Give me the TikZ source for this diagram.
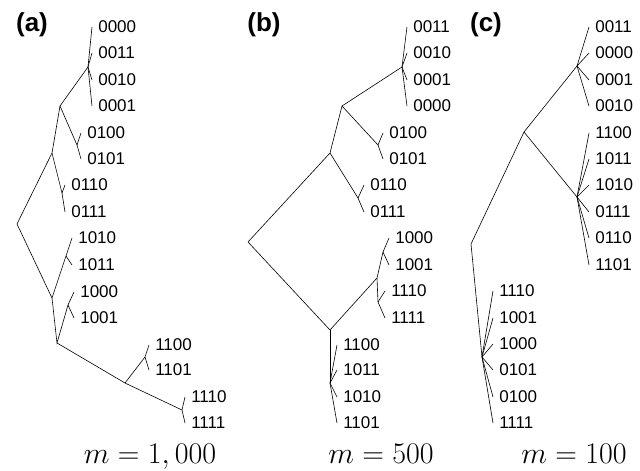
\RequirePackage{fix-cm}
\documentclass[tikz,border=0pt]{standalone}
\usepackage{fontspec}
\newfontfamily\leaffont{Liberation Sans}

\begin{document}
\begin{tikzpicture}[x=1pt,y=-1pt,line width=0.6pt,
    leaf/.style={anchor=west,inner xsep=6pt,inner ysep=0pt,
      font=\leaffont\fontsize{17}{17}\selectfont},
    panel/.style={font=\leaffont\bfseries\fontsize{26}{26}\selectfont},
    mlabel/.style={anchor=base,font=\fontsize{30}{30}\selectfont}]
  \useasboundingbox (0,0) rectangle (640,471);

  % (a)
  \node[panel] (pa) at (32,25) {(a)};
  \coordinate (aroot) at (17,224);
  \coordinate (a1) at (88,67);
  \coordinate (a2) at (60,106);
  \coordinate (a3) at (77,145);
  \coordinate (a4) at (52,153);
  \coordinate (a5) at (62,193);
  \coordinate (a6) at (52,298);
  \coordinate (a7) at (66,256);
  \coordinate (a8) at (57,343);
  \coordinate (a9) at (68,305);
  \coordinate (a10) at (125,383);
  \coordinate (a11) at (145,357);
  \coordinate (a12) at (182,410);
  \draw (aroot) -- (a4) -- (a2) -- (a1);
  \draw (a2) -- (a3);
  \draw (a4) -- (a5);
  \draw (aroot) -- (a6) -- (a7);
  \draw (a6) -- (a8) -- (a9);
  \draw (a8) -- (a10) -- (a11);
  \draw (a10) -- (a12);
  \foreach \lab/\y in {0000/27,0011/53,0010/80,0001/106}{
    \node[leaf] (a\lab) at (92,\y) {\lab};
    \draw (a1) -- (a\lab.west);
  }
  \foreach \lab/\y in {0100/133,0101/159}{
    \node[leaf] (a\lab) at (81,\y) {\lab};
    \draw (a3) -- (a\lab.west);
  }
  \foreach \lab/\y in {0110/185,0111/212}{
    \node[leaf] (a\lab) at (65,\y) {\lab};
    \draw (a5) -- (a\lab.west);
  }
  \foreach \lab/\y in {1010/238,1011/265}{
    \node[leaf] (a\lab) at (72,\y) {\lab};
    \draw (a7) -- (a\lab.west);
  }
  \foreach \lab/\y in {1000/292,1001/318}{
    \node[leaf] (a\lab) at (74,\y) {\lab};
    \draw (a9) -- (a\lab.west);
  }
  \foreach \lab/\y in {1100/345,1101/370}{
    \node[leaf] (a\lab) at (149,\y) {\lab};
    \draw (a11) -- (a\lab.west);
  }
  \foreach \lab/\y in {1110/397,1111/423}{
    \node[leaf] (a\lab) at (185,\y) {\lab};
    \draw (a12) -- (a\lab.west);
  }
  \node[mlabel] (ma) at (150,463) {$m=1,000$};

  % (b)
  \node[panel] (pb) at (264,25) {(b)};
  \coordinate (broot) at (248,242);
  \coordinate (b1) at (402,67);
  \coordinate (b2) at (342,106);
  \coordinate (b3) at (378,145);
  \coordinate (b4) at (330,153);
  \coordinate (b5) at (358,198);
  \coordinate (b6) at (330,330);
  \coordinate (b7) at (377,278);
  \coordinate (b8) at (383,252);
  \coordinate (b9) at (378,302);
  \coordinate (b10) at (330,383);
  \draw (broot) -- (b4) -- (b2) -- (b1);
  \draw (b2) -- (b3);
  \draw (b4) -- (b5);
  \draw (broot) -- (b6) -- (b7) -- (b8);
  \draw (b7) -- (b9);
  \draw (b6) -- (b10);
  \foreach \lab/\y in {0011/27,0010/53,0001/80,0000/106}{
    \node[leaf] (b\lab) at (407,\y) {\lab};
    \draw (b1) -- (b\lab.west);
  }
  \foreach \lab/\y in {0100/133,0101/159}{
    \node[leaf] (b\lab) at (383,\y) {\lab};
    \draw (b3) -- (b\lab.west);
  }
  \foreach \lab/\y in {0110/185,0111/212}{
    \node[leaf] (b\lab) at (364,\y) {\lab};
    \draw (b5) -- (b\lab.west);
  }
  \foreach \lab/\y in {1000/238,1001/265}{
    \node[leaf] (b\lab) at (389,\y) {\lab};
    \draw (b8) -- (b\lab.west);
  }
  \foreach \lab/\y in {1110/291,1111/318}{
    \node[leaf] (b\lab) at (385,\y) {\lab};
    \draw (b9) -- (b\lab.west);
  }
  \foreach \lab/\y in {1100/345,1011/370,1010/397,1101/423}{
    \node[leaf] (b\lab) at (337,\y) {\lab};
    \draw (b10) -- (b\lab.west);
  }
  \node[mlabel] (mb) at (381,463) {$m=500$};

  % (c)
  \node[panel] (pc) at (486,25) {(c)};
  \coordinate (croot) at (471,244);
  \coordinate (c1) at (577,66);
  \coordinate (c2) at (524,132);
  \coordinate (c3) at (577,197);
  \coordinate (c4) at (482,357);
  \draw (croot) -- (c2) -- (c1);
  \draw (c2) -- (c3);
  \draw (croot) -- (c4);
  \foreach \lab/\y in {0011/27,0000/53,0001/80,0010/106}{
    \node[leaf] (c\lab) at (589,\y) {\lab};
    \draw (c1) -- (c\lab.west);
  }
  \foreach \lab/\y in {1100/133,1011/159,1010/185,0111/212,0110/238,1101/265}{
    \node[leaf] (c\lab) at (589,\y) {\lab};
    \draw (c3) -- (c\lab.west);
  }
  \foreach \lab/\y in {1110/291,1001/318,1000/344,0101/370,0100/397,1111/423}{
    \node[leaf] (c\lab) at (493,\y) {\lab};
    \draw (c4) -- (c\lab.west);
  }
  \node[mlabel] (mc) at (574,463) {$m=100$};
\end{tikzpicture}
\end{document}
